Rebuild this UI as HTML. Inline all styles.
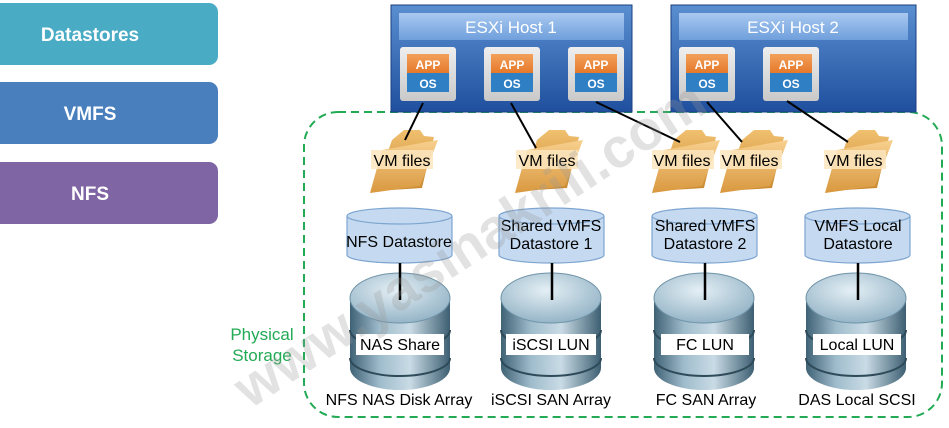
<!DOCTYPE html>
<html><head><meta charset="utf-8"><style>
html,body{margin:0;padding:0;background:#fff;}
svg{display:block;font-family:"Liberation Sans",Arial,sans-serif;}
</style></head><body>
<svg width="949" height="428" viewBox="0 0 949 428" xmlns="http://www.w3.org/2000/svg">
<defs>
<linearGradient id="host" x1="0" y1="0" x2="0" y2="1"><stop offset="0" stop-color="#5a8fd0"/><stop offset="1" stop-color="#1f4f9e"/></linearGradient>
<linearGradient id="hbar" x1="0" y1="0" x2="0" y2="1"><stop offset="0" stop-color="#a9c9f0"/><stop offset="1" stop-color="#6f9fdc"/></linearGradient>
<linearGradient id="card" x1="0" y1="0" x2="0" y2="1"><stop offset="0" stop-color="#eeeeee"/><stop offset="1" stop-color="#c9c9c9"/></linearGradient>
<linearGradient id="app" x1="0" y1="0" x2="0" y2="1"><stop offset="0" stop-color="#f3a05a"/><stop offset="1" stop-color="#e5792a"/></linearGradient>
<linearGradient id="fold" x1="0" y1="0" x2="0" y2="1"><stop offset="0" stop-color="#f7d08e"/><stop offset="1" stop-color="#d9983f"/></linearGradient>
<linearGradient id="foldb" x1="0" y1="0" x2="0" y2="1"><stop offset="0" stop-color="#f0c070"/><stop offset="1" stop-color="#c9892e"/></linearGradient>
<linearGradient id="arr" x1="0" y1="0" x2="1" y2="0"><stop offset="0" stop-color="#3f6275"/><stop offset="0.3" stop-color="#9fbccc"/><stop offset="0.6" stop-color="#c9dbe5"/><stop offset="1" stop-color="#3d5f72"/></linearGradient>
<radialGradient id="arrtop" cx="0.45" cy="0.35" r="0.7"><stop offset="0" stop-color="#e4eff5"/><stop offset="1" stop-color="#8fb0c3"/></radialGradient>
<g id="folder">
<path d="M22,12 L34,2 L50,2 L54,8 L64,9 L52,60 L4,63 Z" fill="url(#foldb)"/>
<path d="M12,22 L68,12 L50,58 L0,65 Z" fill="url(#fold)"/>
</g>
<g id="vm">
<rect x="0" y="0" width="56" height="54" rx="3" fill="url(#card)"/>
<rect x="7" y="7" width="42" height="19" fill="url(#app)"/>
<rect x="7" y="26" width="42" height="19" fill="#2f7fc4"/>
<text x="28" y="22" font-size="12" font-weight="bold" fill="#fff" text-anchor="middle">APP</text>
<text x="28" y="41" font-size="12" font-weight="bold" fill="#fff" text-anchor="middle">OS</text>
</g>
<g id="array">
<path d="M0,26 L0,96 A50,22 0 0 0 100,96 L100,26 Z" fill="url(#arr)"/>
<path d="M0,58 A50,18 0 0 0 100,58" fill="none" stroke="#2f4b5a" stroke-width="2"/>
<path d="M0,86 A50,18 0 0 0 100,86" fill="none" stroke="#2f4b5a" stroke-width="2"/>
<ellipse cx="50" cy="26" rx="50" ry="25" fill="url(#arrtop)" stroke="#6f93a8"/>
</g>
</defs>
<rect x="-10" y="3" width="228" height="62" rx="9" fill="#4aabc4"/>
<text x="90" y="41" font-size="19" font-weight="bold" fill="#fff" text-anchor="middle">Datastores</text>
<rect x="-10" y="82" width="228" height="62" rx="9" fill="#4a7fbe"/>
<text x="90" y="120" font-size="19" font-weight="bold" fill="#fff" text-anchor="middle">VMFS</text>
<rect x="-10" y="162" width="228" height="62" rx="9" fill="#7f65a3"/>
<text x="90" y="200" font-size="19" font-weight="bold" fill="#fff" text-anchor="middle">NFS</text>
<rect x="304" y="112" width="638" height="305" rx="34" fill="none" stroke="#22aa55" stroke-width="2" stroke-dasharray="8,5"/>
<text x="262" y="340" font-size="17" fill="#22aa55" text-anchor="middle">Physical</text>
<text x="262" y="361" font-size="17" fill="#22aa55" text-anchor="middle">Storage</text>
<rect x="391" y="5" width="241" height="107" fill="url(#host)" stroke="#1a3f80"/>
<rect x="399" y="13" width="225" height="27" fill="url(#hbar)"/>
<text x="511" y="33" font-size="17" fill="#fff" text-anchor="middle">ESXi Host 1</text>
<use href="#vm" x="400" y="47"/><use href="#vm" x="484" y="47"/><use href="#vm" x="568" y="47"/>
<rect x="671" y="5" width="245" height="107" fill="url(#host)" stroke="#1a3f80"/>
<rect x="679" y="13" width="229" height="27" fill="url(#hbar)"/>
<text x="793" y="33" font-size="17" fill="#fff" text-anchor="middle">ESXi Host 2</text>
<use href="#vm" x="679" y="47"/><use href="#vm" x="763" y="47"/>
<use href="#folder" x="370" y="128"/>
<use href="#folder" x="515" y="128"/>
<use href="#folder" x="652" y="128"/>
<use href="#folder" x="720" y="128"/>
<use href="#folder" x="825" y="128"/>
<g stroke="#000" stroke-width="2">
<line x1="423" y1="103" x2="405" y2="140"/>
<line x1="511" y1="103" x2="536" y2="148"/>
<line x1="596" y1="102" x2="680" y2="142"/>
<line x1="707" y1="102" x2="742" y2="142"/>
<line x1="787" y1="101" x2="848" y2="142"/>
</g>
<g font-size="16" fill="#000" text-anchor="middle">
<rect x="371" y="150" width="62" height="19" fill="#fbe6c0" opacity="0.85"/><text x="402" y="166">VM files</text>
<rect x="516" y="150" width="62" height="19" fill="#fbe6c0" opacity="0.85"/><text x="547" y="166">VM files</text>
<rect x="652" y="150" width="62" height="19" fill="#fbe6c0" opacity="0.85"/><text x="682" y="166">VM files</text>
<rect x="720" y="150" width="62" height="19" fill="#fbe6c0" opacity="0.85"/><text x="750" y="166">VM files</text>
<rect x="824" y="150" width="62" height="19" fill="#fbe6c0" opacity="0.85"/><text x="854" y="166">VM files</text>
</g>
<use href="#array" x="350" y="272"/>
<use href="#array" x="501" y="272"/>
<use href="#array" x="654" y="272"/>
<use href="#array" x="806" y="272"/>
<g fill="#c5daf0" stroke="#7ea5d0" stroke-width="1.2">
<path d="M347,216 L347,255 A52.5,8 0 0 0 452,255 L452,216"/><ellipse cx="399.5" cy="216" rx="52.5" ry="8"/>
<path d="M499,216 L499,255 A52.5,8 0 0 0 604,255 L604,216"/><ellipse cx="551.5" cy="216" rx="52.5" ry="8"/>
<path d="M652,216 L652,255 A52.5,8 0 0 0 757,255 L757,216"/><ellipse cx="704.5" cy="216" rx="52.5" ry="8"/>
<path d="M805,216 L805,255 A52.5,8 0 0 0 910,255 L910,216"/><ellipse cx="857.5" cy="216" rx="52.5" ry="8"/>
</g>
<g stroke="#000" stroke-width="2.5">
<line x1="400" y1="263" x2="400" y2="300"/>
<line x1="552" y1="263" x2="552" y2="300"/>
<line x1="705" y1="263" x2="705" y2="300"/>
<line x1="858" y1="263" x2="858" y2="300"/>
</g>
<g font-size="16" fill="#000" text-anchor="middle">
<text x="399" y="247">NFS Datastore</text>
<text x="551" y="231">Shared VMFS</text><text x="551" y="249">Datastore 1</text>
<text x="705" y="231">Shared VMFS</text><text x="705" y="249">Datastore 2</text>
<text x="858" y="231">VMFS Local</text><text x="858" y="249">Datastore</text>
</g>
<g fill="#fff">
<rect x="356" y="334" width="88" height="21"/><rect x="506" y="334" width="90" height="21"/>
<rect x="661" y="334" width="88" height="21"/><rect x="813" y="334" width="88" height="21"/>
</g>
<g font-size="16" fill="#000" text-anchor="middle">
<text x="400" y="350">NAS Share</text><text x="551" y="350">iSCSI LUN</text>
<text x="705" y="350">FC LUN</text><text x="857" y="350">Local LUN</text>
<text x="399" y="405">NFS NAS Disk Array</text><text x="551" y="405">iSCSI SAN Array</text>
<text x="706" y="405">FC SAN Array</text><text x="857" y="405">DAS Local SCSI</text>
</g>
<text x="480" y="260" font-size="56" font-weight="bold" fill="#999" opacity="0.28" text-anchor="middle" transform="rotate(-33 480 260)">www.yasinakrili.com</text>
</svg>
</body></html>
